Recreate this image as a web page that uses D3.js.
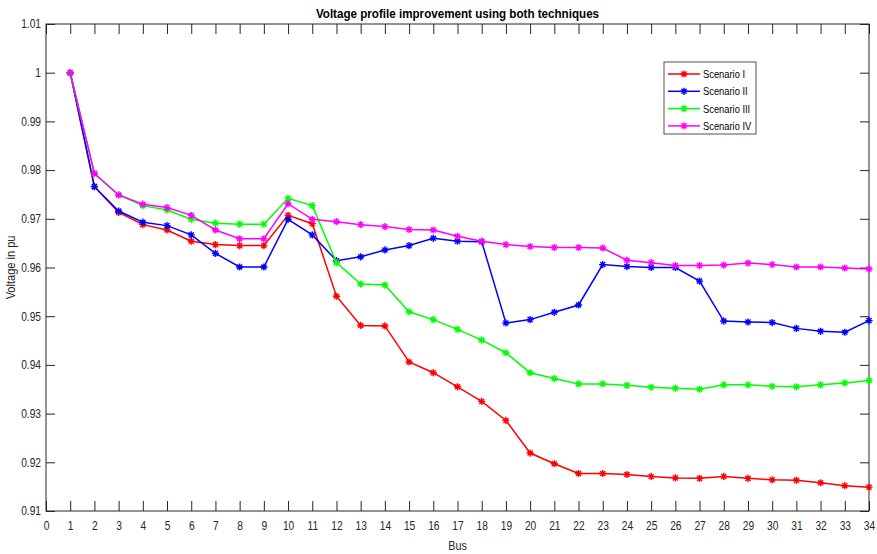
<!DOCTYPE html>
<html>
<head>
<meta charset="utf-8">
<script src="https://cdn.jsdelivr.net/npm/d3@7"></script>
<style>
  body { margin: 0; background: #fff; }
  text { font-family: "Liberation Sans", Arial, sans-serif; fill: #262626; }
</style>
</head>
<body>
<script>
const width = 877;
const height = 554;
const margin = { top: 24, right: 8, bottom: 43, left: 46 };

const chartWidth = width - margin.left - margin.right;
const chartHeight = height - margin.top - margin.bottom;

// data
const buses = d3.range(1, 35);
const scenarioI = [1.0000, 0.9766, 0.9713, 0.9688, 0.9677, 0.9654, 0.9647, 0.9645, 0.9645, 0.9707,
  0.9690, 0.9541, 0.9481, 0.9480, 0.9406, 0.9384, 0.9355, 0.9325, 0.9286, 0.9219,
  0.9197, 0.9177, 0.9177, 0.9175, 0.9171, 0.9168, 0.9167, 0.9171, 0.9167, 0.9164,
  0.9163, 0.9158, 0.9152, 0.9149];
const scenarioII = [1.0000, 0.9766, 0.9716, 0.9693, 0.9686, 0.9667, 0.9629, 0.9601, 0.9601, 0.9699,
  0.9667, 0.9614, 0.9622, 0.9636, 0.9645, 0.9660, 0.9654, 0.9653, 0.9486, 0.9493,
  0.9508, 0.9523, 0.9606, 0.9602, 0.9600, 0.9600, 0.9572, 0.9490, 0.9488, 0.9487,
  0.9475, 0.9469, 0.9467, 0.9491];
const scenarioIII = [1.0000, 0.9793, 0.9749, 0.9727, 0.9718, 0.9699, 0.9691, 0.9689, 0.9689, 0.9742,
  0.9727, 0.9610, 0.9566, 0.9564, 0.9509, 0.9493, 0.9473, 0.9451, 0.9425, 0.9384,
  0.9372, 0.9361, 0.9361, 0.9358, 0.9354, 0.9352, 0.9350, 0.9359, 0.9359, 0.9356,
  0.9355, 0.9359, 0.9363, 0.9368];
const scenarioIV = [1.0000, 0.9793, 0.9749, 0.9730, 0.9723, 0.9707, 0.9677, 0.9659, 0.9659, 0.9731,
  0.9699, 0.9694, 0.9688, 0.9684, 0.9678, 0.9677, 0.9664, 0.9654, 0.9647, 0.9643,
  0.9641, 0.9641, 0.9640, 0.9615, 0.9610, 0.9604, 0.9604, 0.9605, 0.9609, 0.9606,
  0.9601, 0.9601, 0.9599, 0.9597];

const seriesNames = ["Scenario I", "Scenario II", "Scenario III", "Scenario IV"];
const seriesValues = [scenarioI, scenarioII, scenarioIII, scenarioIV];
const colors = ["#ff0000", "#0000ff", "#00ff00", "#ff00ff"];

const xTicks = d3.range(0, 35);
const yTicks = d3.range(91, 102).map(d => d / 100);

// squeeze text horizontally to mimic the narrow MATLAB font
function condense(sel, s, extra = "") {
  sel.each(function () {
    const t = d3.select(this);
    const x0 = +(t.attr("x") || 0);
    t.attr("x", x0 / s).attr("transform", `${extra} scale(${s},1)`);
  });
}

const svg = d3.select("body")
  .append("svg")
  .attr("width", width)
  .attr("height", height);

const g = svg.append("g")
  .attr("transform", `translate(${margin.left}, ${margin.top})`);

const x = d3.scaleLinear().domain([0, 34]).range([0, chartWidth]);
const y = d3.scaleLinear().domain([0.91, 1.01]).range([chartHeight, 0]);

const axisColor = "#262626";

// box
g.append("rect")
  .attr("width", chartWidth)
  .attr("height", chartHeight)
  .attr("fill", "none")
  .attr("stroke", axisColor)
  .attr("stroke-width", 1);

// inside ticks on all four sides
const xAxisCall = d3.axisBottom(x).tickValues(xTicks).tickSize(-10).tickPadding(10).tickFormat(d3.format("d"));
const yAxisCall = d3.axisLeft(y).tickValues(yTicks).tickSize(-9).tickPadding(5).tickFormat(d => d === 1 ? "1" : d3.format(".2f")(d));

const xAxisGroup = g.append("g")
  .attr("transform", `translate(0, ${chartHeight})`)
  .call(xAxisCall);
const yAxisGroup = g.append("g").call(yAxisCall);

g.append("g")
  .call(d3.axisTop(x).tickValues(xTicks).tickSize(-10).tickFormat(""));
g.append("g")
  .attr("transform", `translate(${chartWidth}, 0)`)
  .call(d3.axisRight(y).tickValues(yTicks).tickSize(-9).tickFormat(""));

g.selectAll(".domain").remove();
g.selectAll(".tick line").attr("stroke", axisColor);
g.selectAll(".tick text").attr("font-size", 12).attr("fill", axisColor);
condense(xAxisGroup.selectAll(".tick text"), 0.85);
condense(yAxisGroup.selectAll(".tick text"), 0.85);

// labels
g.append("text")
  .attr("x", chartWidth / 2)
  .attr("y", chartHeight + 39)
  .attr("text-anchor", "middle")
  .attr("font-size", 12)
  .text("Bus")
  .call(condense, 0.9);

g.append("text")
  .attr("x", -chartHeight / 2)
  .attr("y", -31)
  .attr("text-anchor", "middle")
  .attr("font-size", 12)
  .text("Voltage in pu")
  .call(condense, 0.92, "rotate(-90)");

svg.append("text")
  .attr("x", margin.left + chartWidth / 2)
  .attr("y", 18)
  .attr("text-anchor", "middle")
  .attr("font-size", 12.5)
  .attr("font-weight", "bold")
  .style("fill", "#000")
  .text("Voltage profile improvement using both techniques")
  .call(condense, 0.93);

// asterisk marker
const r = 3.6;
const d45 = r * Math.SQRT1_2;
const starPath = `M0,${-r}V${r}M${-r},0H${r}M${-d45},${-d45}L${d45},${d45}M${-d45},${d45}L${d45},${-d45}`;

const line = d3.line()
  .x((d, i) => x(buses[i]))
  .y(d => y(d));

seriesValues.forEach((vals, k) => {
  const sg = g.append("g");
  sg.append("path")
    .datum(vals)
    .attr("d", line)
    .attr("fill", "none")
    .attr("stroke", colors[k])
    .attr("stroke-width", 1.5);
  sg.selectAll("path.m")
    .data(vals)
    .enter()
    .append("path")
    .attr("class", "m")
    .attr("transform", (d, i) => `translate(${x(buses[i])}, ${y(d)})`)
    .attr("d", starPath)
    .attr("stroke", colors[k])
    .attr("stroke-width", 1.4);
});

// legend
const legend = svg.append("g").attr("transform", "translate(664, 62)");
legend.append("rect")
  .attr("width", 92)
  .attr("height", 72)
  .attr("fill", "#fff")
  .attr("stroke", axisColor)
  .attr("stroke-width", 0.8);

seriesNames.forEach((name, k) => {
  const ly = 12 + k * 17.3;
  const row = legend.append("g").attr("transform", `translate(0, ${ly})`);
  row.append("line")
    .attr("x1", 4).attr("x2", 36)
    .attr("stroke", colors[k])
    .attr("stroke-width", 1.5);
  row.append("path")
    .attr("transform", "translate(20, 0)")
    .attr("d", starPath)
    .attr("stroke", colors[k])
    .attr("stroke-width", 1.4);
  row.append("text")
    .attr("x", 39)
    .attr("y", 4)
    .attr("font-size", 11)
    .style("fill", "#000")
    .text(name)
    .call(condense, 0.85);
});
</script>
</body>
</html>
